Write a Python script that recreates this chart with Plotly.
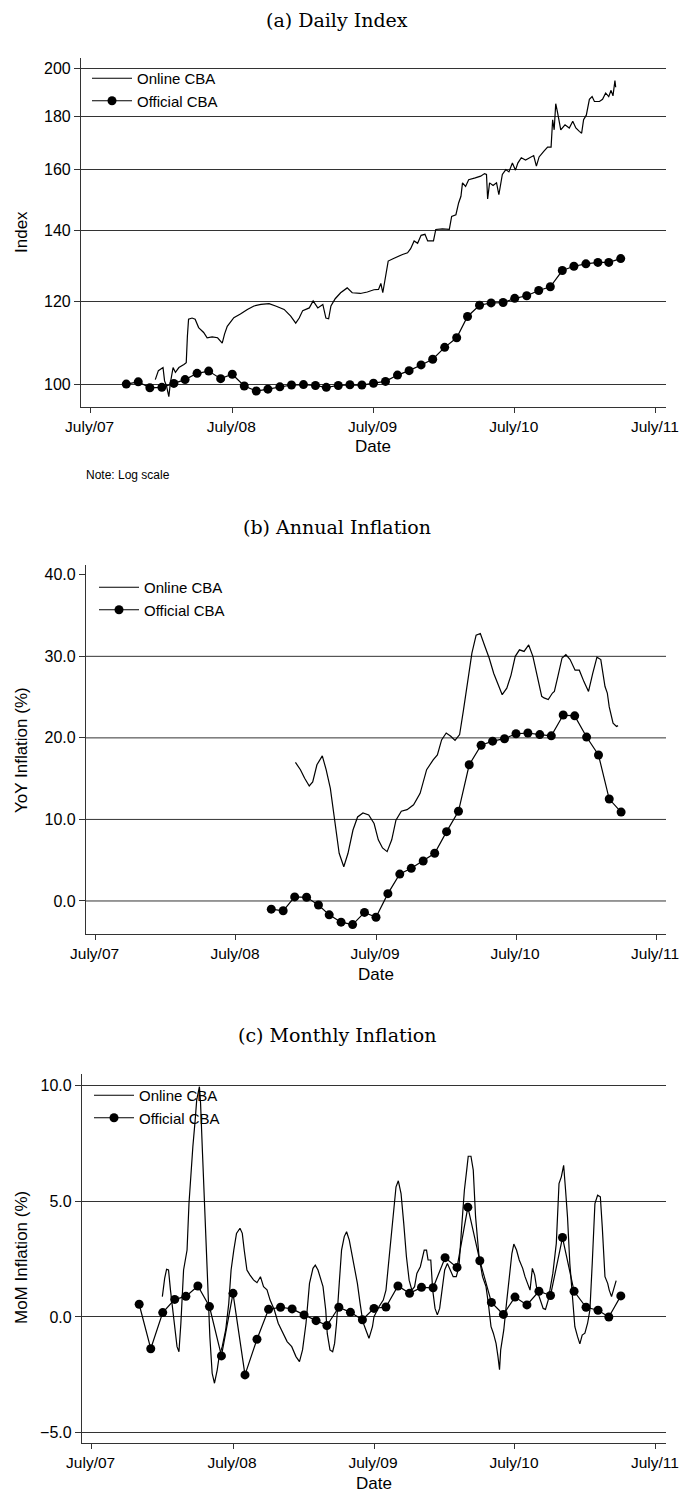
import plotly.graph_objects as go
import pandas as pd

W, H = 679, 1492

# ---------------- data ----------------
# Official CBA, monthly
official_idx_months = pd.date_range("2007-10-01", "2011-04-01", freq="MS")
official_idx = [100.0, 100.5, 99.2,
                99.3, 100.15, 101.0, 102.4, 102.9, 101.2, 102.2, 99.6, 98.5, 98.9, 99.4, 99.8,
                99.9, 99.7, 99.3, 99.7, 99.85, 99.8, 100.2, 100.6, 102.0, 103.0, 104.3, 105.6,
                108.4, 110.7, 116.0, 118.9, 119.5, 119.6, 120.7, 121.4, 122.8, 123.8, 128.3, 129.5,
                130.2, 130.6, 130.6, 131.7]

official_yoy_months = pd.date_range("2008-10-01", "2011-04-01", freq="MS")
official_yoy = [-1.0, -1.2, 0.5,
                0.45, -0.5, -1.7, -2.6, -2.9, -1.4, -2.0, 0.9, 3.3, 4.0, 4.9, 5.85,
                8.5, 11.0, 16.7, 19.1, 19.6, 19.9, 20.5, 20.6, 20.4, 20.25, 22.8, 22.7,
                20.1, 17.9, 12.5, 10.9]

official_mom_months = pd.date_range("2007-11-01", "2011-04-01", freq="MS")
official_mom = [0.55, -1.37,
                0.19, 0.76, 0.89, 1.34, 0.45, -1.68, 1.02, -2.50, -0.96, 0.33, 0.42, 0.35,
                0.09, -0.16, -0.37, 0.42, 0.20, -0.12, 0.37, 0.43, 1.34, 1.02, 1.28, 1.26,
                2.56, 2.14, 4.74, 2.43, 0.63, 0.11, 0.86, 0.52, 1.11, 0.93, 3.43, 1.11,
                0.42, 0.29, 0.0, 0.91]

# Online CBA, daily index
online_idx_dates = [
    "2007-12-15", "2007-12-23", "2008-01-04", "2008-01-08", "2008-01-13", "2008-01-19",
    "2008-01-23", "2008-01-30", "2008-02-05", "2008-02-14", "2008-02-27", "2008-03-04",
    "2008-03-07", "2008-03-10", "2008-03-19", "2008-03-27", "2008-04-05", "2008-04-18",
    "2008-04-27", "2008-05-10", "2008-05-24", "2008-06-05", "2008-06-11", "2008-06-18",
    "2008-07-05", "2008-07-22", "2008-08-09", "2008-08-26", "2008-09-13", "2008-10-04",
    "2008-10-21", "2008-11-12", "2008-11-29", "2008-12-12", "2008-12-21", "2008-12-30",
    "2009-01-16", "2009-01-26", "2009-02-07", "2009-02-20", "2009-02-28", "2009-03-07",
    "2009-03-13", "2009-03-24", "2009-04-07", "2009-04-24", "2009-05-07", "2009-05-28",
    "2009-06-15", "2009-07-02", "2009-07-14", "2009-07-20", "2009-07-25", "2009-08-02",
    "2009-08-08", "2009-08-19", "2009-09-02", "2009-09-14", "2009-09-27", "2009-10-05",
    "2009-10-14", "2009-10-23", "2009-11-01", "2009-11-11", "2009-11-18", "2009-12-03",
    "2009-12-09", "2009-12-26", "2010-01-13", "2010-01-19", "2010-01-30", "2010-02-06",
    "2010-02-12", "2010-02-16", "2010-02-24", "2010-03-04", "2010-03-21", "2010-04-04",
    "2010-04-14", "2010-04-19", "2010-04-22", "2010-04-27", "2010-05-06", "2010-05-15",
    "2010-05-21", "2010-05-30", "2010-06-08", "2010-06-16", "2010-06-25", "2010-07-03",
    "2010-07-09", "2010-07-18", "2010-07-29", "2010-08-07", "2010-08-19", "2010-08-26",
    "2010-09-02", "2010-09-14", "2010-09-24", "2010-10-03", "2010-10-07", "2010-10-11",
    "2010-10-15", "2010-10-20", "2010-10-28", "2010-11-08", "2010-11-19", "2010-11-28",
    "2010-12-06", "2010-12-15", "2010-12-21", "2010-12-26", "2011-01-02", "2011-01-10",
    "2011-01-17", "2011-01-23", "2011-02-05", "2011-02-13", "2011-02-21", "2011-03-01",
    "2011-03-07", "2011-03-12", "2011-03-17", "2011-03-19"]
online_idx = [
    101.0, 103.0, 103.7, 100.7, 99.6, 97.3,
    100.3, 103.7, 102.6, 103.7, 104.4, 104.8,
    111.1, 115.3, 115.6, 115.3, 113.2, 112.0,
    110.7, 110.9, 110.7, 109.4, 111.6, 113.5,
    115.7, 116.6, 117.8, 118.7, 119.1, 119.3,
    118.7, 117.8, 116.1, 114.3, 115.6, 117.5,
    118.2, 120.0, 118.2, 119.1, 115.6, 115.4,
    118.7, 120.6, 122.2, 123.5, 122.2, 122.0,
    122.4, 123.0, 123.1, 124.7, 122.2, 126.7,
    131.0, 131.6, 132.4, 132.9, 133.4, 134.6,
    136.9, 136.2, 138.6, 138.9, 136.9, 136.9,
    140.4, 140.6, 140.4, 144.5, 145.0, 148.8,
    151.0, 155.5, 154.3, 156.6, 157.2, 157.8,
    158.7, 158.4, 150.1, 155.5, 154.6, 155.5,
    151.5, 158.4, 160.1, 159.3, 162.4, 159.9,
    162.4, 164.3, 163.5, 164.3, 165.1, 161.3,
    164.6, 166.6, 168.2, 168.2, 178.6, 174.7,
    185.0, 181.2, 174.7, 176.6, 175.4, 178.0,
    175.4, 174.1, 173.4, 178.6, 180.4, 186.8,
    187.9, 185.9, 185.9, 186.8, 189.4, 187.9,
    190.5, 188.2, 194.6, 191.8]

# Online CBA, annual inflation (%)
online_yoy_dates = [
    "2008-12-03", "2008-12-16", "2008-12-27", "2009-01-08", "2009-01-17", "2009-01-28",
    "2009-02-11", "2009-02-21", "2009-03-04", "2009-03-16", "2009-03-27", "2009-04-08",
    "2009-04-19", "2009-05-02", "2009-05-14", "2009-05-28", "2009-06-12", "2009-06-26",
    "2009-07-07", "2009-07-18", "2009-07-30", "2009-08-11", "2009-08-22", "2009-09-05",
    "2009-09-20", "2009-10-07", "2009-10-24", "2009-11-10", "2009-11-27", "2009-12-08",
    "2009-12-19", "2009-12-31", "2010-01-12", "2010-01-23", "2010-02-04", "2010-02-14",
    "2010-02-25", "2010-03-08", "2010-03-19", "2010-03-30", "2010-04-11", "2010-04-22",
    "2010-05-04", "2010-05-15", "2010-05-26", "2010-06-07", "2010-06-18", "2010-06-29",
    "2010-07-10", "2010-07-22", "2010-08-03", "2010-08-14", "2010-08-26", "2010-09-06",
    "2010-09-12", "2010-09-23", "2010-10-04", "2010-10-09", "2010-10-18", "2010-10-29",
    "2010-11-08", "2010-11-19", "2010-12-02", "2010-12-13", "2010-12-25", "2011-01-06",
    "2011-01-17", "2011-01-28", "2011-02-07", "2011-02-18", "2011-02-24", "2011-03-01",
    "2011-03-11", "2011-03-20", "2011-03-24"]
online_yoy = [
    17.0, 16.1, 15.05, 14.1, 14.6, 16.7,
    17.8, 16.1, 13.8, 9.9, 5.85, 4.2,
    5.85, 8.7, 10.3, 10.8, 10.55, 9.5,
    7.5, 6.5, 6.05, 7.5, 9.9, 11.0,
    11.2, 11.8, 13.2, 16.1, 17.3, 17.9,
    19.75, 20.6, 20.2, 19.7, 20.4, 23.4,
    27.1, 30.4, 32.6, 32.8, 31.2, 29.8,
    27.9, 26.7, 25.3, 26.1, 27.7, 30.0,
    30.8, 30.6, 31.4, 30.0, 27.5, 25.1,
    24.9, 24.7, 25.5, 25.7, 27.5, 29.8,
    30.2, 29.6, 28.3, 28.3, 26.9, 25.7,
    27.9, 29.9, 29.6, 26.3, 25.5, 23.8,
    21.8, 21.4, 21.5]

# Online CBA, monthly inflation (%)
online_mom_dates = [
    "2007-12-31", "2008-01-06", "2008-01-11", "2008-01-16", "2008-01-21", "2008-01-30",
    "2008-02-07", "2008-02-12", "2008-02-17", "2008-02-24", "2008-02-29", "2008-03-04",
    "2008-03-09", "2008-03-14", "2008-03-19", "2008-03-25", "2008-03-29", "2008-04-05",
    "2008-04-08", "2008-04-13", "2008-04-18", "2008-04-25", "2008-05-02", "2008-05-08",
    "2008-05-14", "2008-05-21", "2008-05-26", "2008-06-03", "2008-06-12", "2008-06-20",
    "2008-06-26", "2008-07-03", "2008-07-10", "2008-07-19", "2008-07-25", "2008-07-30",
    "2008-08-06", "2008-08-14", "2008-08-23", "2008-09-01", "2008-09-10", "2008-09-18",
    "2008-09-27", "2008-10-05", "2008-10-16", "2008-10-26", "2008-11-07", "2008-11-18",
    "2008-11-30", "2008-12-11", "2008-12-20", "2008-12-28", "2009-01-06", "2009-01-15",
    "2009-01-24", "2009-01-30", "2009-02-06", "2009-02-13", "2009-02-19", "2009-02-26",
    "2009-03-02", "2009-03-09", "2009-03-16", "2009-03-21", "2009-03-26", "2009-04-02",
    "2009-04-08", "2009-04-15", "2009-04-21", "2009-04-28", "2009-05-07", "2009-05-14",
    "2009-05-19", "2009-05-26", "2009-06-02", "2009-06-10", "2009-06-18", "2009-06-27",
    "2009-07-01", "2009-07-14", "2009-07-25", "2009-08-01", "2009-08-10", "2009-08-18",
    "2009-08-27", "2009-09-02", "2009-09-09", "2009-09-16", "2009-09-23", "2009-09-30",
    "2009-10-07", "2009-10-14", "2009-10-20", "2009-10-29", "2009-11-08", "2009-11-14",
    "2009-11-18", "2009-11-25", "2009-11-30", "2009-12-06", "2009-12-12", "2009-12-18",
    "2009-12-24", "2009-12-31", "2010-01-07", "2010-01-14", "2010-01-22", "2010-01-30",
    "2010-02-06", "2010-02-13", "2010-02-20", "2010-02-26", "2010-03-02", "2010-03-09",
    "2010-03-15", "2010-03-21", "2010-03-30", "2010-04-08", "2010-04-17", "2010-04-23",
    "2010-04-30", "2010-05-06", "2010-05-13", "2010-05-18", "2010-05-22", "2010-05-25",
    "2010-06-02", "2010-06-09", "2010-06-17", "2010-06-23", "2010-06-28", "2010-07-05",
    "2010-07-12", "2010-07-21", "2010-07-27", "2010-08-03", "2010-08-09", "2010-08-15",
    "2010-08-21", "2010-08-27", "2010-09-04", "2010-09-12", "2010-09-18", "2010-09-25",
    "2010-10-01", "2010-10-07", "2010-10-16", "2010-10-23", "2010-10-29", "2010-11-04",
    "2010-11-09", "2010-11-14", "2010-11-20", "2010-11-26", "2010-12-03", "2010-12-10",
    "2010-12-16", "2010-12-22", "2010-12-29", "2011-01-05", "2011-01-11", "2011-01-17",
    "2011-01-24", "2011-01-31", "2011-02-07", "2011-02-12", "2011-02-19", "2011-02-26",
    "2011-03-02", "2011-03-08", "2011-03-13", "2011-03-20"]
online_mom = [
    0.88, 1.67, 2.06, 2.03, 1.17, -0.27,
    -1.28, -1.50, -0.27, 2.03, 2.60, 2.89,
    4.91, 6.35, 7.35, 8.50, 9.37, 9.94,
    9.22, 7.06, 4.91, 2.03, -0.85, -2.43,
    -2.86, -2.29, -1.71, -1.28, -0.56, 0.59,
    2.03, 2.89, 3.61, 3.83, 3.61, 2.89,
    2.03, 1.81, 1.60, 1.48, 1.74, 1.31,
    1.17, 0.73, 0.30, -0.27, -0.71, -1.06,
    -1.28, -1.71, -1.93, -1.42, -0.27, 1.45,
    2.10, 2.24, 2.03, 1.60, 1.31, 0.30,
    -0.71, -1.42, -1.50, -1.14, -0.27, 1.45,
    2.89, 3.47, 3.68, 3.32, 2.46, 1.74,
    1.45, 0.59, -0.20, -0.56, -0.92, -0.42,
    0.01, 0.45, 0.73, 1.16, 2.60, 4.18,
    5.62, 5.88, 5.33, 4.04, 2.60, 1.59,
    1.16, 1.31, 1.88, 2.17, 2.89, 2.89,
    2.46, 2.46, 1.16, 0.37, 0.09, 0.37,
    1.16, 2.03, 2.31, 2.03, 1.74, 1.74,
    2.17, 3.89, 5.47, 6.34, 6.94, 6.94,
    6.34, 4.32, 2.60, 1.74, 1.31, 0.59,
    -0.42, -0.70, -1.14, -1.71, -2.28, -1.42,
    -0.56, 0.59, 1.74, 2.74, 3.15, 2.89,
    2.46, 2.10, 1.74, 1.45, 1.16, 2.10,
    1.81, 1.16, 0.73, 0.37, 0.33, 0.73,
    1.31, 1.88, 3.18, 5.76, 6.05, 6.55,
    5.47, 4.32, 2.31, 0.88, -0.42, -0.85,
    -1.16, -0.78, -0.70, -0.27, 0.30, 2.31,
    4.90, 5.26, 5.19, 3.89, 1.74, 1.45,
    1.16, 0.88, 1.16, 1.57]

# Axis ticks
date_ticks = ["2007-07-01", "2008-07-01", "2009-07-01", "2010-07-01", "2011-07-01"]
date_tick_labels = ["July/07", "July/08", "July/09", "July/10", "July/11"]
index_ticks = [100, 120, 140, 160, 180, 200]
yoy_ticks = [0, 10, 20, 30, 40]
yoy_grid = [0, 10, 20, 30]
mom_ticks = [-5, 0, 5, 10]

# ---------------- styling helpers ----------------
SANS = "Liberation Sans, Arial, Helvetica, sans-serif"
SERIF = "DejaVu Serif, serif"
INK = "black"
GRID = "#333333"
X_RANGE = ["2007-06-06", "2011-07-27"]


def px(x):
    return x / W


def py(y):
    return 1 - y / H


fig = go.Figure()

panels = [
    # (suffix, legend, official x, official y, online x, online y)
    ("", "legend", official_idx_months, official_idx, online_idx_dates, online_idx),
    ("2", "legend2", official_yoy_months, official_yoy, online_yoy_dates, online_yoy),
    ("3", "legend3", official_mom_months, official_mom, online_mom_dates, online_mom),
]

for suf, leg, ox, oy, nx, ny in panels:
    fig.add_trace(go.Scatter(
        x=nx, y=ny, mode="lines", name="Online CBA",
        line=dict(color=INK, width=1.2),
        xaxis="x" + suf, yaxis="y" + suf, legend=leg))
    fig.add_trace(go.Scatter(
        x=ox, y=oy, mode="lines+markers", name="Official CBA",
        line=dict(color=INK, width=1.2),
        marker=dict(symbol="circle", size=9, color=INK),
        xaxis="x" + suf, yaxis="y" + suf, legend=leg))

xaxis_common = dict(
    type="date", range=X_RANGE, tickmode="array",
    tickvals=date_ticks, ticktext=date_tick_labels,
    showline=True, linecolor=GRID, linewidth=1.2,
    ticks="outside", ticklen=5, tickcolor=GRID, tickwidth=1,
    showgrid=False, zeroline=False, automargin=False,
    ticklabeloverflow="allow", ticklabelshift=-1,
    tickfont=dict(family=SANS, size=15.5, color=INK),
)
yaxis_common = dict(
    showline=True, linecolor=GRID, linewidth=1.2,
    ticks="outside", ticklen=6, tickcolor=GRID, tickwidth=1,
    zeroline=False, gridcolor=GRID, gridwidth=1, automargin=False,
    ticklabeloverflow="allow",
    tickfont=dict(family=SANS, size=16, color=INK),
)

fig.update_layout(
    width=W, height=H,
    margin=dict(l=0, r=0, t=0, b=0, autoexpand=False),
    paper_bgcolor="white", plot_bgcolor="white",
    font=dict(family=SANS, size=16, color=INK),
    xaxis=dict(xaxis_common, domain=[px(81), px(666)], anchor="y"),
    yaxis=dict(yaxis_common, domain=[py(407), py(58)], anchor="x",
               type="log", range=[1.9782, 2.3107],
               tickvals=index_ticks, ticktext=[str(v) for v in index_ticks],
               showgrid=True),
    xaxis2=dict(xaxis_common, domain=[px(86), px(666)], anchor="y2"),
    yaxis2=dict(yaxis_common, domain=[py(934), py(565)], anchor="x2",
                range=[-4.05, 41.2], tickvals=yoy_ticks, tickformat=".1f",
                showgrid=False),
    xaxis3=dict(xaxis_common, domain=[px(82), px(666)], anchor="y3"),
    yaxis3=dict(yaxis_common, domain=[py(1443), py(1074)], anchor="x3",
                range=[-5.44, 10.49], tickvals=mom_ticks, tickformat=".1f",
                showgrid=True),
)

legend_style = dict(
    bgcolor="rgba(0,0,0,0)", borderwidth=0,
    font=dict(family=SANS, size=15, color=INK),
    xanchor="left", yanchor="top", tracegroupgap=0, itemwidth=40,
    traceorder="normal",
)
fig.update_layout(
    legend=dict(legend_style, x=px(87), y=py(62)),
    legend2=dict(legend_style, x=px(94), y=py(571)),
    legend3=dict(legend_style, x=px(89), y=py(1079)),
)

# Horizontal rules for the annual-inflation panel (no rule at the top tick)
for v in yoy_grid:
    fig.add_shape(type="line", xref="x2 domain", yref="y2",
                  x0=0, x1=1, y0=v, y1=v,
                  line=dict(color=GRID, width=1), layer="below")

annotations = [
    # panel titles
    dict(text="(a) Daily Index", x=px(337), y=py(20)),
    dict(text="(b) Annual Inflation", x=px(337), y=py(527)),
    dict(text="(c) Monthly Inflation", x=px(337), y=py(1035)),
]
for a in annotations:
    a.update(xref="paper", yref="paper", xanchor="center", yanchor="middle",
             showarrow=False, font=dict(family=SERIF, size=19, color=INK))
    fig.add_annotation(**a)

axis_titles = [
    dict(text="Date", x=px(373), y=py(447)),
    dict(text="Date", x=px(376), y=py(974)),
    dict(text="Date", x=px(374), y=py(1483)),
    dict(text="Index", x=px(21), y=py(232), textangle=-90),
    dict(text="YoY Inflation (%)", x=px(21), y=py(750), textangle=-90),
    dict(text="MoM Inflation (%)", x=px(21), y=py(1258), textangle=-90),
]
for a in axis_titles:
    a.update(xref="paper", yref="paper", xanchor="center", yanchor="middle",
             showarrow=False, font=dict(family=SANS, size=17, color=INK))
    fig.add_annotation(**a)

fig.add_annotation(text="Note: Log scale", x=px(84), y=py(475),
                   xref="paper", yref="paper", xanchor="left", yanchor="middle",
                   showarrow=False, font=dict(family=SANS, size=12, color=INK))

fig.write_html("out.html")
